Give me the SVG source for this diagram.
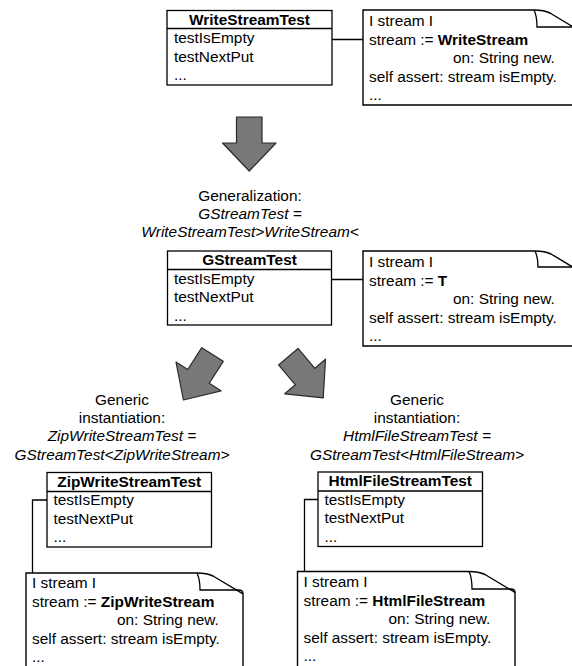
<svg xmlns="http://www.w3.org/2000/svg" width="572" height="666" viewBox="0 0 572 666">
<style>
text{font-family:"Liberation Sans",Arial,Helvetica,sans-serif;font-size:15.4px;fill:#000}
.b{font-weight:bold}
.i{font-style:italic}
.m{text-anchor:middle}
.box{fill:#fff;stroke:#000;stroke-width:1.3}
.note{fill:#fff;stroke:#000;stroke-width:1.4}
.fold{fill:none;stroke:#000;stroke-width:1.3}
.con{fill:none;stroke:#000;stroke-width:1.3}
.arr{fill:#787878;stroke:#2a2a2a;stroke-width:1.2;stroke-linejoin:round}
</style>
<defs>
<path id="bigarrow" d="M-12.75,0 L12.75,0 L12.75,26 L26.75,26 L0,54 L-26.75,26 L-12.75,26 Z"/>
</defs>

<g id="connectors">
<path class="con" d="M259,39.5 H363"/>
<path class="con" d="M260,279.5 H363"/>
<path class="con" d="M47,500 H32.5 V573"/>
<path class="con" d="M318,499.5 H304.5 V571.5"/>
</g>

<g id="arrows">
<use href="#bigarrow" class="arr" transform="translate(249.25,117)"/>
<use href="#bigarrow" class="arr" transform="translate(212.5,354.5) rotate(32.6)"/>
<use href="#bigarrow" class="arr" transform="translate(288.3,356.7) rotate(-40.3)"/>
</g>

<g id="WriteStreamTest">
<rect class="box" x="167" y="10.5" width="165" height="74.5"/>
<line class="box" x1="167" y1="28.5" x2="332" y2="28.5"/>
<text class="b m" x="249.5" y="24.5">WriteStreamTest</text>
<text x="174" y="43">testIsEmpty</text>
<text x="174" y="61.5">testNextPut</text>
<text x="174" y="80">...</text>
</g>

<g id="note1">
<path class="note" d="M363,10 H534 C540,10 544,10 550,13 L580,31 V105 H363 Z"/>
<path class="fold" d="M534,10 C536,14 537,20 537,27 H576 Q580,27 580,31"/>
<text x="369" y="26">I stream I</text>
<text x="369" y="44.5">stream := <tspan class="b">WriteStream</tspan></text>
<text x="453" y="63">on: String new.</text>
<text x="369" y="81.5">self assert: stream isEmpty.</text>
<text x="369" y="100">...</text>
</g>

<g id="generalization-label">
<text class="m" x="250" y="201">Generalization:</text>
<text class="m i" x="250" y="219">GStreamTest =</text>
<text class="m i" x="250" y="237">WriteStreamTest&gt;WriteStream&lt;</text>
</g>

<g id="GStreamTest">
<rect class="box" x="167.5" y="251" width="164" height="74"/>
<line class="box" x1="167.5" y1="269.5" x2="331.5" y2="269.5"/>
<text class="b m" x="249.5" y="265">GStreamTest</text>
<text x="174" y="283.5">testIsEmpty</text>
<text x="174" y="302">testNextPut</text>
<text x="174" y="320.5">...</text>
</g>

<g id="note2">
<path class="note" d="M363,251 H535 C541,251 545,251 551,254 L581,272 V346 H363 Z"/>
<path class="fold" d="M535,251 C537,255 538,261 538,267 H577 Q581,267 581,272"/>
<text x="369" y="267">I stream I</text>
<text x="369" y="285.5">stream := <tspan class="b">T</tspan></text>
<text x="453" y="304">on: String new.</text>
<text x="369" y="322.5">self assert: stream isEmpty.</text>
<text x="369" y="341">...</text>
</g>

<g id="zip-label">
<text class="m" x="122" y="405">Generic</text>
<text class="m" x="122" y="423">instantiation:</text>
<text class="m i" x="122" y="441">ZipWriteStreamTest =</text>
<text class="m i" x="122" y="459.5">GStreamTest&lt;ZipWriteStream&gt;</text>
</g>

<g id="ZipWriteStreamTest">
<rect class="box" x="47" y="472.5" width="164.5" height="74.5"/>
<line class="box" x1="47" y1="491.5" x2="211.5" y2="491.5"/>
<text class="b m" x="129.25" y="486.5">ZipWriteStreamTest</text>
<text x="53.5" y="505">testIsEmpty</text>
<text x="53.5" y="523.5">testNextPut</text>
<text x="53.5" y="542">...</text>
</g>

<g id="note3">
<path class="note" d="M26,573 H197 C203,573 207,573 213,576 L243,594 V670 H26 Z"/>
<path class="fold" d="M197,573 C199,577 200,583 200,590 H239 Q243,590 243,594"/>
<text x="32" y="588">I stream I</text>
<text x="32" y="606.5">stream := <tspan class="b">ZipWriteStream</tspan></text>
<text x="117" y="625">on: String new.</text>
<text x="32" y="643.5">self assert: stream isEmpty.</text>
<text x="32" y="662">...</text>
</g>

<g id="html-label">
<text class="m" x="417" y="405">Generic</text>
<text class="m" x="417" y="423">instantiation:</text>
<text class="m i" x="417" y="441">HtmlFileStreamTest =</text>
<text class="m i" x="417" y="459.5">GStreamTest&lt;HtmlFileStream&gt;</text>
</g>

<g id="HtmlFileStreamTest">
<rect class="box" x="318" y="472" width="164.5" height="74.5"/>
<line class="box" x1="318" y1="491" x2="482.5" y2="491"/>
<text class="b m" x="400.25" y="486">HtmlFileStreamTest</text>
<text x="324.5" y="504.5">testIsEmpty</text>
<text x="324.5" y="523">testNextPut</text>
<text x="324.5" y="541.5">...</text>
</g>

<g id="note4">
<path class="note" d="M297.5,571.5 H469 C475,571.5 479,571.5 485,574.5 L515,592.5 V670 H297.5 Z"/>
<path class="fold" d="M469,571.5 C471,575.5 472,582 472,589 H511 Q515,589 515,592.5"/>
<text x="303.5" y="587">I stream I</text>
<text x="303.5" y="605.5">stream := <tspan class="b">HtmlFileStream</tspan></text>
<text x="388.5" y="624">on: String new.</text>
<text x="303.5" y="642.5">self assert: stream isEmpty.</text>
<text x="303.5" y="661">...</text>
</g>
</svg>
